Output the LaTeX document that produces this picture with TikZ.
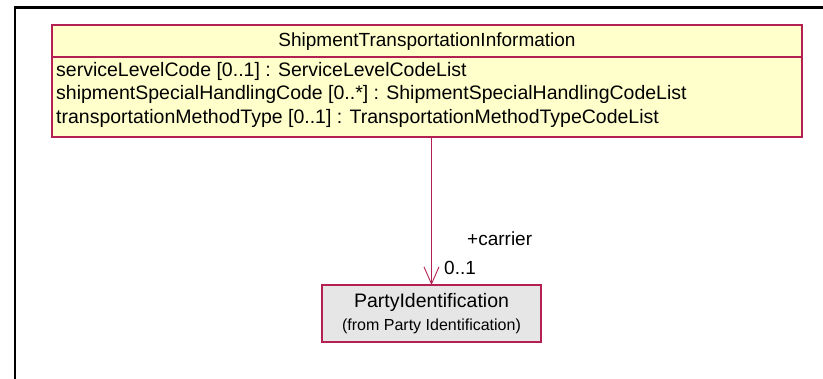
\documentclass[tikz,border=0pt]{standalone}
\usepackage{fontspec}
\setmainfont{Liberation Sans}
\usetikzlibrary{arrows.meta}
\definecolor{umlline}{RGB}{180,32,82}
\definecolor{umlyellow}{RGB}{255,255,204}
\definecolor{umlgray}{RGB}{230,230,230}
\tikzset{
  classbox/.style={draw=umlline, line width=1.3pt, fill=umlyellow, inner sep=0pt, outer sep=0pt},
  refbox/.style={draw=umlline, line width=1.3pt, fill=umlgray, inner sep=0pt, outer sep=0pt},
  txt/.style={inner sep=0pt, font=\fontsize{19}{23}\selectfont},
  attrtxt/.style={inner sep=0pt, font=\fontsize{19.5}{23}\selectfont},
  smalltxt/.style={inner sep=0pt, font=\fontsize{16}{18}\selectfont},
  assoc/.style={draw=umlline, line width=0.9pt, -{Straight Barb[length=17pt,width=15pt,line width=0.9pt]}},
  frame/.style={line width=2.5pt, black}
}
\begin{document}
\begin{tikzpicture}[x=1pt,y=-1pt]
\useasboundingbox (0,0) rectangle (823,379);
% frame
\coordinate (fc) at (15,7.5);
\coordinate (fr) at (823,7.5);
\coordinate (fb) at (15,379);
\draw[frame] (fr) -- (fc) -- (fb);
% class box
\node[classbox, anchor=north west, minimum width=750pt, minimum height=32pt] (title) at (52,25) {};
\node[classbox, anchor=north west, minimum width=750pt, minimum height=80pt] (attrs) at (52,57) {};
\node[txt] (tname) at (427,42) {ShipmentTransportationInformation};
\node[attrtxt, anchor=west] (a1) at (56,71) {serviceLevelCode [0..1] : ServiceLevelCodeList};
\node[attrtxt, anchor=west] (a2) at (56,94.5) {shipmentSpecialHandlingCode [0..*] : ShipmentSpecialHandlingCodeList};
\node[attrtxt, anchor=west] (a3) at (56,118) {transportationMethodType [0..1] : TransportationMethodTypeCodeList};
% party box
\node[refbox, minimum width=219pt, minimum height=57pt] (party) at (431.5,313.5) {};
\node[attrtxt] (pname) at (431.5,302) {PartyIdentification};
\node[smalltxt] (pfrom) at (431.5,326) {(from Party Identification)};
% association
\coordinate (astart) at (party.north |- attrs.south);
\draw[assoc] (astart) -- (party.north);
\node[txt, anchor=west] (role) at (467,239) {+carrier};
\node[txt, anchor=west] (mult) at (444,268) {0..1};
\end{tikzpicture}
\end{document}
